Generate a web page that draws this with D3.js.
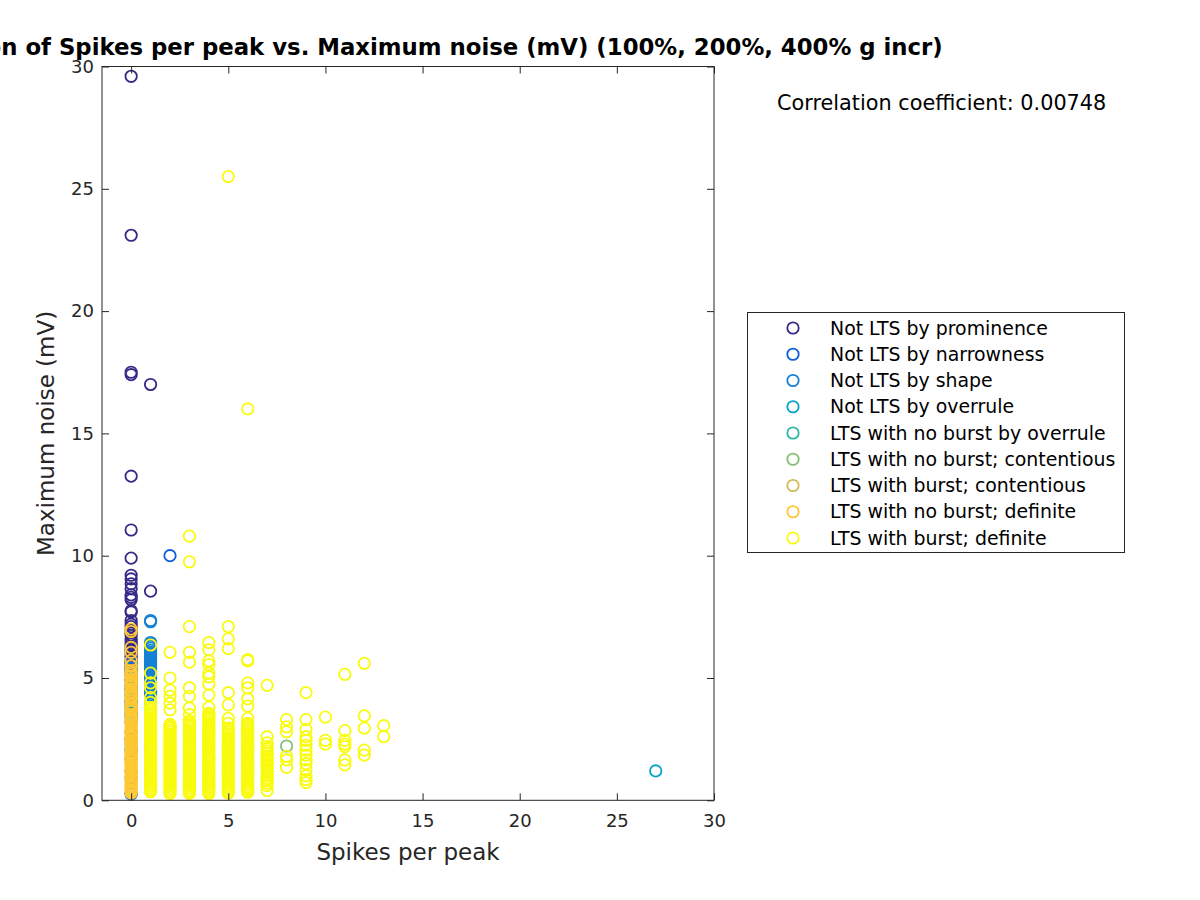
<!DOCTYPE html>
<html><head><meta charset="utf-8">
<script src="https://cdn.jsdelivr.net/npm/d3@7"></script>
<style>body{margin:0;background:#fff}</style></head><body>
<svg id="c" width="1200" height="900"></svg>
<script>
// ---------- data ----------
const categories = ["Not LTS by prominence","Not LTS by narrowness","Not LTS by shape","Not LTS by overrule",
  "LTS with no burst by overrule","LTS with no burst; contentious","LTS with burst; contentious",
  "LTS with no burst; definite","LTS with burst; definite"];
const seriesColors = ["#352a87","#0f5cdd","#1481d6","#06a4ca","#2eb7a4","#87bf77","#d1bb59","#fec832","#f9fb0e"];
const xTicks = [0,5,10,15,20,25,30];
const yTicks = [0,5,10,15,20,25,30];
const titleText = "Correlation of Spikes per peak vs. Maximum noise (mV) (100%, 200%, 400% g incr)";
const xLabel = "Spikes per peak";
const yLabel = "Maximum noise (mV)";
const corrText = "Correlation coefficient: 0.00748";

// each series: x values (spikes per peak) and, for each x, the list of maximum-noise values
const prominenceX = [0, 1];
const prominenceY = [
  [29.6,23.1,17.5,17.4,13.25,11.05,9.9,9.2,9.05,8.85,8.65,8.4,8.3,8.2,7.75,7.7,7.35,7.2,7.1,6.95,6.85,6.75,6.6,6.5,6.4,6.3,6.2,6.1,6.0,5.9,5.8,5.7,5.6,5.5,5.4,5.3,5.2,5.1,4.9,4.7,4.5,4.3,4.0,3.8,3.5,3.2,2.8,2.5,2.1,1.7,1.2],
  [17.0,8.55,4.43]];
const narrowX = [0, 1, 2];
const narrowY = [[0.25,5.6,4.9],[5.0],[10.0]];
const shapeX = [0, 1];
const shapeY = [
  [5.4,4.6,3.9,2.0,0.9,0.3],
  [7.35,7.3,6.45,6.38,6.3,6.22,6.13,6.05,5.97,5.9,5.82,5.73,5.65,5.57,5.5,5.42,5.33,5.25,5.17,5.1,5.02,4.93,4.85,4.77,4.7,4.62,4.53,4.45,4.38,4.3]];
const overruleX = [0, 1, 27];
const overruleY = [[3.4,4.1],[4.0],[1.2]];
const noBurstOverruleX = [0];
const noBurstOverruleY = [[4.55,4.05,3.6,3.5,2.3]];
const noBurstContX = [0, 8];
const noBurstContY = [[3.7],[2.22]];
const burstContX = [0];
const burstContY = [[5.5,4.2]];
const noBurstDefX = [0];
const noBurstDefY = [[7.0,6.9,6.25,6.05,5.72,5.5,
  5.3,5.22,5.15,5.07,4.98,4.9,4.83,4.75,4.66,4.5,4.43,4.35,4.27,4.2,4.12,3.95,3.88,3.8,3.72,3.63,3.48,3.4,3.32,3.25,3.17,3.08,3.0,2.92,2.85,2.77,2.7,2.62,2.53,2.45,2.38,2.3,2.22,2.15,2.07,1.98,1.9,1.83,1.75,1.67,1.6,1.52,1.43,1.35,1.28,1.2,1.12,1.05,0.97,0.88,0.8,0.73,0.65,0.57,0.5,0.42,0.35,0.3]];
const burstDefX = [1,2,3,4,5,6,7,8,9,10,11,12,13];
const burstDefY = [
  [6.35,5.2,4.8,4.6,4.2,4.0,3.8,3.72,3.65,3.57,3.5,3.42,3.33,3.25,3.18,3.1,3.02,2.93,2.85,2.78,2.7,2.62,2.55,2.47,2.38,2.3,2.22,2.15,2.07,2.0,1.92,1.83,1.75,1.68,1.6,1.52,1.45,1.37,1.28,1.2,1.13,1.05,0.97,0.9,0.82,0.73,0.65,0.58,0.5,0.42,0.35],
  [6.05,5.0,4.5,4.25,3.97,3.7,3.1,3.02,2.95,2.87,2.8,2.72,2.63,2.55,2.48,2.4,2.32,2.25,2.17,2.08,2.0,1.93,1.85,1.77,1.7,1.62,1.53,1.45,1.38,1.3,1.22,1.15,1.07,0.98,0.9,0.83,0.75,0.67,0.6,0.52,0.43,0.35,0.27],
  [10.8,9.75,7.1,6.05,5.65,4.6,4.25,3.77,3.5,3.25,3.18,3.1,3.02,2.93,2.85,2.78,2.7,2.62,2.55,2.47,2.38,2.3,2.22,2.15,2.07,2.0,1.92,1.83,1.75,1.68,1.6,1.52,1.45,1.37,1.28,1.2,1.13,1.05,0.97,0.9,0.82,0.73,0.65,0.58,0.5,0.42,0.35,0.28],
  [6.45,6.15,5.7,5.55,5.2,5.05,4.75,4.3,3.8,3.55,3.48,3.4,3.32,3.25,3.17,3.08,3.0,2.92,2.85,2.77,2.7,2.62,2.53,2.45,2.38,2.3,2.22,2.15,2.07,1.98,1.9,1.83,1.75,1.67,1.6,1.52,1.43,1.35,1.28,1.2,1.12,1.05,0.97,0.88,0.8,0.73,0.65,0.57,0.5,0.42,0.35,0.27],
  [25.5,7.1,6.6,6.2,4.4,3.9,3.35,3.15,2.95,2.87,2.8,2.72,2.63,2.55,2.48,2.4,2.32,2.25,2.17,2.08,2.0,1.93,1.85,1.77,1.7,1.62,1.53,1.45,1.38,1.3,1.22,1.15,1.07,0.98,0.9,0.83,0.75,0.67,0.6,0.52,0.43,0.35,0.3],
  [16.0,5.75,5.7,4.8,4.6,4.15,3.85,3.35,3.15,3.07,3.0,2.92,2.83,2.75,2.68,2.6,2.52,2.45,2.37,2.28,2.2,2.12,2.05,1.97,1.9,1.82,1.73,1.65,1.58,1.5,1.42,1.35,1.27,1.18,1.1,1.03,0.95,0.87,0.8,0.72,0.63,0.55,0.48,0.4,0.33],
  [4.7,2.6,2.35,2.2,2.1,2.0,1.9,1.8,1.7,1.6,1.5,1.4,1.3,1.2,1.1,1.0,0.9,0.8,0.7,0.6,0.4],
  [3.3,3.0,2.8,1.8,1.65,1.35],
  [4.4,3.3,2.9,2.6,2.45,2.25,2.05,1.85,1.65,1.5,1.25,1.0,0.85,0.72],
  [3.4,2.45,2.3],
  [5.15,2.85,2.45,2.3,2.2,1.65,1.45],
  [5.6,3.45,2.95,2.05,1.85],
  [3.05,2.6]];

const seriesX = [prominenceX,narrowX,shapeX,overruleX,noBurstOverruleX,noBurstContX,burstContX,noBurstDefX,burstDefX];
const seriesY = [prominenceY,narrowY,shapeY,overruleY,noBurstOverruleY,noBurstContY,burstContY,noBurstDefY,burstDefY];

// ---------- layout ----------
const svg = d3.select("#c");
const L = 102, R = 714, T = 66.5, B = 800.3;
const x = d3.scaleLinear().domain([-1.5, 30]).range([L, R]);
const y = d3.scaleLinear().domain([0, 30]).range([B, T]);
const ink = "#262626";
const font = "DejaVu Sans, sans-serif";
const mr = 5.7, mw = 1.8;

// points
const gPts = svg.append("g");
seriesX.forEach((xs, i) => {
  const data = [];
  xs.forEach((xv, k) => seriesY[i][k].forEach(yv => data.push([xv, yv])));
  gPts.append("g").selectAll("circle").data(data).join("circle")
    .attr("cx", d => x(d[0])).attr("cy", d => y(d[1])).attr("r", mr)
    .attr("fill", "none").attr("stroke", seriesColors[i]).attr("stroke-width", mw);
});

// axes
const tl = 7;
const gx = svg.append("g").attr("transform", `translate(0,${B})`)
  .call(d3.axisBottom(x).tickValues(xTicks).tickSizeInner(-tl).tickSizeOuter(0).tickPadding(14));
const gxt = svg.append("g").attr("transform", `translate(0,${T})`)
  .call(d3.axisTop(x).tickValues(xTicks).tickSizeInner(-tl).tickSizeOuter(0).tickFormat(""));
const gy = svg.append("g").attr("transform", `translate(${L},0)`)
  .call(d3.axisLeft(y).tickValues(yTicks).tickSizeInner(-tl).tickSizeOuter(0).tickPadding(8));
const gyr = svg.append("g").attr("transform", `translate(${R},0)`)
  .call(d3.axisRight(y).tickValues(yTicks).tickSizeInner(-tl).tickSizeOuter(0).tickFormat(""));
[gx,gxt,gy,gyr].forEach(g => {
  g.select(".domain").remove();
  g.selectAll("line").attr("stroke", ink);
  g.selectAll("text").attr("fill", ink).style("font-family", font).style("font-size", "18px");
});
svg.append("rect").attr("x", L).attr("y", T).attr("width", R - L).attr("height", B - T)
  .attr("fill", "none").attr("stroke", ink).attr("stroke-width", 1);

// labels
svg.append("text").attr("x", (L + R) / 2).attr("y", 860).attr("text-anchor", "middle")
  .style("font-family", font).style("font-size", "23px").attr("fill", ink).text(xLabel);
svg.append("text").attr("transform", `translate(54,${(T + B) / 2}) rotate(-90)`).attr("text-anchor", "middle")
  .style("font-family", font).style("font-size", "23px").attr("fill", ink).text(yLabel);
svg.append("text").attr("x", (L + R) / 2).attr("y", 55).attr("text-anchor", "middle")
  .style("font-family", font).style("font-size", "22.8px").style("font-weight", "bold").attr("fill", "#000").text(titleText);
svg.append("text").attr("x", 777).attr("y", 110)
  .style("font-family", font).style("font-size", "20.8px").attr("fill", "#000").text(corrText);

// legend
const lg = svg.append("g");
lg.append("rect").attr("x", 747.5).attr("y", 312.5).attr("width", 377).attr("height", 240)
  .attr("fill", "#fff").attr("stroke", ink).attr("stroke-width", 1);
const ly = d3.scalePoint().domain(categories).range([328, 538]);
categories.forEach((c, i) => {
  lg.append("circle").attr("cx", 793).attr("cy", ly(c)).attr("r", mr)
    .attr("fill", "none").attr("stroke", seriesColors[i]).attr("stroke-width", mw);
  lg.append("text").attr("x", 830).attr("y", ly(c)).attr("dy", "0.35em")
    .style("font-family", font).style("font-size", "18.9px").attr("fill", "#000").text(c);
});
</script></body></html>
